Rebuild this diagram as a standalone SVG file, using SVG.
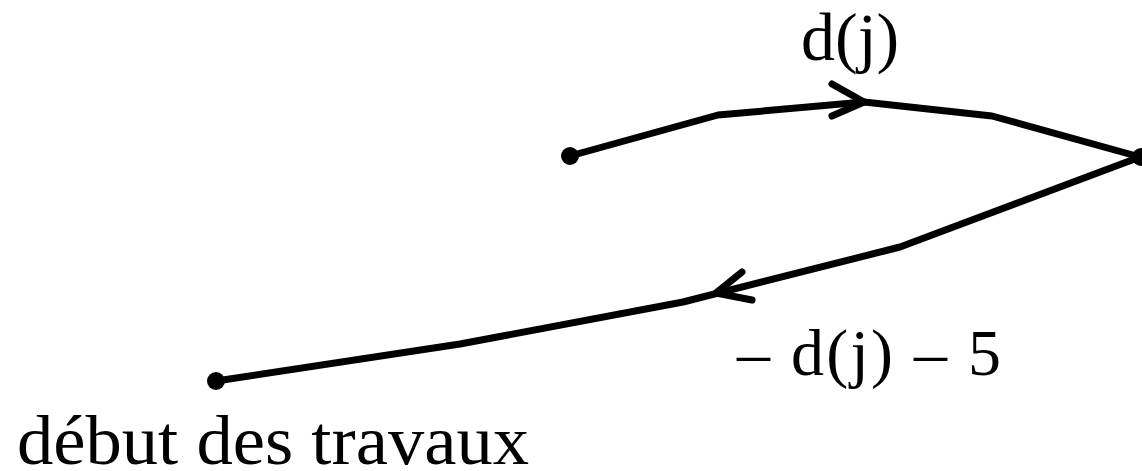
<svg xmlns="http://www.w3.org/2000/svg" width="1142" height="471" viewBox="0 0 1142 471">
<style>
.ln{fill:none;stroke:#000;stroke-width:7;stroke-linejoin:round;stroke-linecap:round}
.t{font-family:"Liberation Serif","Times New Roman",serif;fill:#000}
</style>
<rect width="1142" height="471" fill="#fff"/>
<g id="connectors">
<polyline class="ln" points="570,156 718,115 864,102 992,116 1140,157"/>
<polyline class="ln" points="832,84 864,102 832,116"/>
<polyline class="ln" points="1140,157 900,247 683,302 460,344 216,381"/>
<polyline class="ln" points="742,272 716,293 752,300"/>
</g>
<g id="start"><circle cx="570" cy="156" r="9"/></g>
<g id="end"><circle cx="1141" cy="157" r="9"/></g>
<g id="debut"><circle cx="216" cy="381" r="9"/>
<text class="t" x="17" y="464" font-size="70" textLength="512" lengthAdjust="spacingAndGlyphs">début des travaux</text></g>
<g id="label1"><text class="t" x="801" y="60" font-size="68">d(j)</text></g>
<g id="label2"><text class="t" x="737" y="375" font-size="66" textLength="264" lengthAdjust="spacing">– d(j) – 5</text></g>
</svg>
